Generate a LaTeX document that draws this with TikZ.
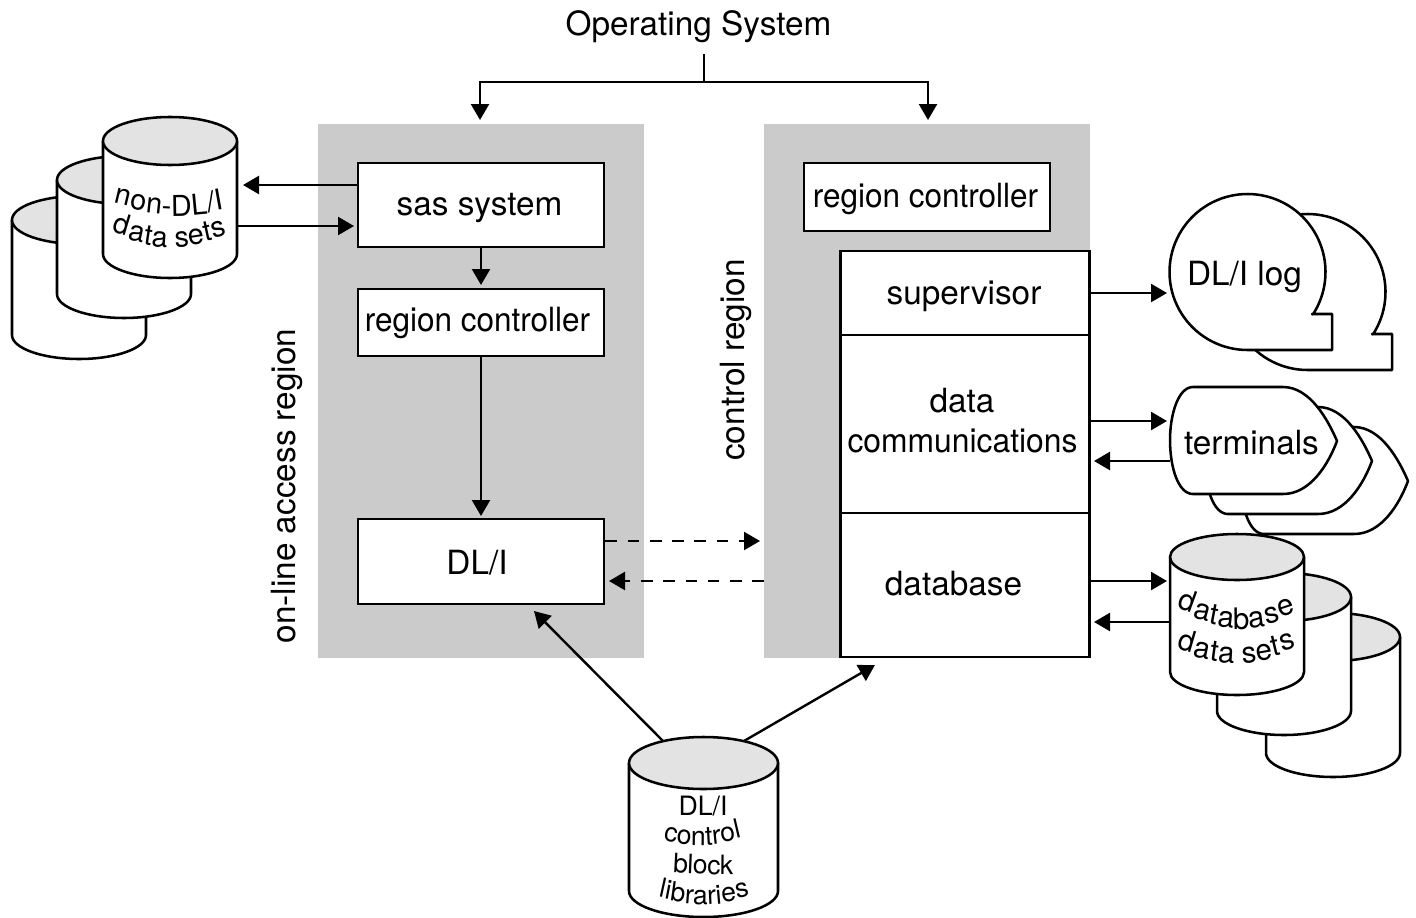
\documentclass[tikz,border=0pt]{standalone}
\usepackage{fontspec}
\setmainfont{TeX Gyre Heros}
\usetikzlibrary{arrows.meta,calc}
\definecolor{regiongray}{HTML}{CBCBCB}
\definecolor{topgray}{HTML}{E3E3E3}
\newcommand{\bigf}{\fontsize{25pt}{29pt}\selectfont}
\newcommand{\cylf}{\fontsize{21.6pt}{25pt}\selectfont}
\newcommand{\cylbf}{\fontsize{22.2pt}{25pt}\selectfont}
\newcommand{\libf}{\fontsize{20pt}{24pt}\selectfont}
\tikzset{
  x=0.75pt,y=-0.75pt,
  region/.style={fill=regiongray,draw=none},
  boxn/.style={draw=black,fill=white,line width=2.1pt,inner sep=0pt,rectangle},
  txt/.style={font=\bigf,inner sep=0pt,anchor=base,text=black},
  rtxt/.style={font=\bigf,inner sep=0pt,anchor=base,rotate=90,text=black},
  shapeline/.style={draw=black,fill=white,line width=1.9pt,line join=round},
  conn/.style={draw=black,line width=1.8pt,-{Triangle[length=12pt,width=13.5pt]}},
  plainconn/.style={draw=black,line width=1.8pt},
  dashconn/.style={conn,dash pattern=on 8.7pt off 8pt},
}
% name, cx, top centre y, rx, body height, ry
\newcommand{\cyl}[6]{%
  \path[shapeline] ({#2-#4},#3) -- ({#2-#4},{#3+#5})
    .. controls ({#2-#4},{#3+#5+0.55*#6}) and ({#2-0.55*#4},{#3+#5+#6}) .. ({#2},{#3+#5+#6})
    .. controls ({#2+0.55*#4},{#3+#5+#6}) and ({#2+#4},{#3+#5+0.55*#6}) .. ({#2+#4},{#3+#5})
    -- ({#2+#4},#3) -- cycle;
  \path[shapeline,fill=topgray] (#2,#3) ellipse [x radius=#4*0.75pt,y radius=#6*0.75pt];
  \coordinate (#1) at (#2,#3);
}
\newcommand{\logshape}[3]{%
  \path[shapeline] plot[domain=33:-270,samples=90] ({#2+1247.5+78*cos(\x)},{#3+272+78*sin(\x)})
    -- ({#2+1332},{#3+350}) -- ({#2+1332},{#3+314}) -- ({#2+1312},{#3+314}) -- cycle;
  \coordinate (#1) at ({#2+1247.5},{#3+272});
}
\newcommand{\termshape}[3]{%
  \path[shapeline] ({#2+1193},{#3+387}) -- ({#2+1283},{#3+387})
    .. controls ({#2+1310},{#3+387}) and ({#2+1328},{#3+420}) .. ({#2+1337},{#3+441})
    .. controls ({#2+1328},{#3+465}) and ({#2+1310},{#3+494}) .. ({#2+1283},{#3+494})
    -- ({#2+1193},{#3+494})
    .. controls ({#2+1178},{#3+494}) and ({#2+1170},{#3+467}) .. ({#2+1170},{#3+440})
    .. controls ({#2+1170},{#3+415}) and ({#2+1178},{#3+387}) .. ({#2+1193},{#3+387}) -- cycle;
  \coordinate (#1) at ({#2+1253},{#3+440});
}
% letters set round a cylinder:
% name, font, size px, start x, centre x, half width, baseline y at centre, sag, letters/advance
\newcommand{\warp}[9]{%
  \xdef\warpx{#4}%
  \foreach \ch/\w [count=\i] in {#9} {%
    \pgfmathsetmacro\warpc{\warpx+#3*\w/2}%
    \pgfmathsetmacro\warpd{(\warpc-#5)/#6}%
    \pgfmathsetmacro\warpy{#7-#8*\warpd*\warpd}%
    \pgfmathsetmacro\warpr{0.6*atan(2*#8*\warpd/#6)}%
    \ifx\ch\empty\else
      \node[font=#2,inner sep=0pt,anchor=base,rotate=\warpr] (#1\i) at (\warpc,\warpy) {\ch};
    \fi
    \pgfmathsetmacro\warpn{\warpx+#3*\w}%
    \xdef\warpx{\warpn}%
  }%
}
\begin{document}
\begin{tikzpicture}
\useasboundingbox (0,0) rectangle (1416,917);
% regions
\path[region] (318,124) rectangle (644,658);
\path[region] (764,124) rectangle (1090,658);
% title
\node[txt] (os) at (698.5,36) {Operating System};
\coordinate (osj) at (704,82);
\coordinate (osl) at (480,82);
\coordinate (osr) at (928,82);
\coordinate (osle) at (480,120);
\coordinate (osre) at (928,120);
\coordinate (ost) at (704,54);
\draw[plainconn] (ost) -- (osj);
\draw[conn] (osj) -- (osl) -- (osle);
\draw[conn] (osj) -- (osr) -- (osre);
% left boxes
\node[boxn,minimum width=184.5pt,minimum height=63pt] (sas) at (481,205) {};
\node[boxn,minimum width=184.5pt,minimum height=50.25pt] (rc1) at (481,322.5) {};
\node[boxn,minimum width=184.5pt,minimum height=63.75pt] (dli) at (481,561.5) {};
\node[txt] (sast) at (479.5,215) {sas system};
\node[txt,xscale=0.945] (rc1t) at (477.5,331) {region controller};
\node[txt] (dlit) at (477,574) {DL/I};
% right boxes
\node[boxn,minimum width=184.5pt,minimum height=51pt] (rc2) at (927,197) {};
\node[txt,xscale=0.945] (rc2t) at (925.5,207) {region controller};
\node[boxn,minimum width=186.75pt,minimum height=63pt] (sup) at (965,293) {};
\node[boxn,minimum width=186.75pt,minimum height=133.5pt] (dc) at (965,424) {};
\node[boxn,minimum width=186.75pt,minimum height=108pt] (db) at (965,585) {};
\node[txt] (supt) at (964,304) {supervisor};
\node[txt] (dct1) at (962,412) {data};
\node[txt,xscale=0.955] (dct2) at (962.5,452) {communications};
\node[txt] (dbt) at (953.5,595) {database};
% rotated labels
\node[rtxt] (lab1) at (295.5,486) {on-line access region};
\node[rtxt] (lab2) at (744,360) {control region};
% non-DL/I cylinders
\cyl{c1a}{79}{220}{67}{115}{24}
\cyl{c1b}{124}{180}{67}{114}{24}
\cyl{c1c}{170}{141}{67}{113}{24}
\warp{na}{\cylf}{29}{113}{178}{60}{216}{13}{n/.556,o/.556,n/.556,-/.333,D/.722,L/.556,{/}/.278,I/.278}
\warp{nb}{\cylf}{28.8}{111}{172}{55}{248}{15}{d/.556,a/.556,t/.278,a/.556,{}/.278,s/.5,e/.556,t/.278,s/.5}
% log
\logshape{logb}{60}{20}
\logshape{logf}{0}{0}
\node[txt] (logt) at (1244.5,285) {DL/I log};
% terminals
\termshape{t3}{71}{40}
\termshape{t2}{35}{20}
\termshape{t1}{0}{0}
\node[txt] (termt) at (1251.5,454) {terminals};
% database cylinders
\cyl{c2a}{1333}{637}{67}{116}{24}
\cyl{c2b}{1284}{597}{67}{114}{24}
\cyl{c2c}{1237}{557}{67}{115}{23}
\warp{da}{\cylbf}{29.4}{1176}{1240}{58}{629}{20}{d/.556,a/.556,t/.278,a/.556,b/.556,a/.556,s/.5,e/.556}
\warp{db}{\cylbf}{29.8}{1176}{1236}{55}{664}{15}{d/.556,a/.556,t/.278,a/.556,{}/.278,s/.5,e/.556,t/.278,s/.5}
% control block cylinder
\cyl{c3}{703.5}{763}{74.5}{128}{26}
\node[font=\libf,inner sep=0pt,anchor=base] (libt1) at (703,815) {DL/I};
\warp{la}{\libf}{26.4}{663}{700}{37}{846}{7}{c/.5,o/.556,n/.556,t/.278,r/.333,o/.556,l/.222}
\warp{lb}{\libf}{25.7}{673}{735}{62}{875}{3}{b/.556,l/.222,o/.556,c/.5,k/.5}
\warp{lc}{\libf}{26.3}{658}{703}{47}{905}{10}{l/.222,i/.222,b/.556,r/.333,a/.556,r/.333,i/.222,e/.556,s/.5}
% connectors
\coordinate (a1) at (243,185);
\coordinate (a2) at (238,226);
\coordinate (a2e) at (354,226);
\coordinate (a3) at (481,285);
\coordinate (a4) at (481,516);
\draw[conn] (sas.west |- a1) -- (a1);
\draw[conn] (a2) -- (a2e);
\draw[conn] (sas.south -| a3) -- (a3);
\draw[conn] (rc1.south -| a4) -- (a4);
\coordinate (d1) at (760,541);
\coordinate (d2) at (764,581);
\coordinate (d2e) at (609,581);
\draw[dashconn] (dli.east |- d1) -- (d1);
\draw[dashconn] (d2) -- (d2e);
\coordinate (l1s) at (663,741);
\coordinate (l1e) at (534,611);
\coordinate (l2s) at (744,741);
\coordinate (l2e) at (875,665);
\draw[conn] (l1s) -- (l1e);
\draw[conn] (l2s) -- (l2e);
\coordinate (r1) at (1167,293);
\coordinate (r2) at (1167,421);
\coordinate (r3s) at (1170,461);
\coordinate (r3e) at (1094,461);
\coordinate (r4) at (1167,581);
\coordinate (r5s) at (1170,622);
\coordinate (r5e) at (1094,622);
\draw[conn] (sup.east |- r1) -- (r1);
\draw[conn] (dc.east |- r2) -- (r2);
\draw[conn] (r3s) -- (r3e);
\draw[conn] (db.east |- r4) -- (r4);
\draw[conn] (r5s) -- (r5e);
\end{tikzpicture}
\end{document}
